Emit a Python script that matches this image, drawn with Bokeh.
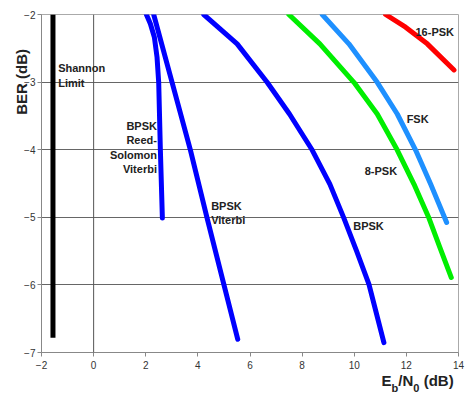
import math
from bokeh.plotting import figure
from bokeh.models import Range1d, Label, Span, FixedTicker, LinearAxis
from bokeh.embed import file_html
from bokeh.resources import INLINE

# ---- data ----
x_ticks = [-2, 0, 2, 4, 6, 8, 10, 12, 14]
y_ticks = [-7, -6, -5, -4, -3, -2]

shannon_x = [-1.56, -1.56]
shannon_y = [-2.0, -6.78]

rs_viterbi_x = [2.024, 2.177, 2.331, 2.433, 2.497, 2.561, 2.638]
rs_viterbi_y = [-2.0, -2.138, -2.336, -2.632, -3.003, -4.005, -5.012]

bpsk_viterbi_x = [2.305, 3.010, 3.714, 4.354, 4.994, 5.531]
bpsk_viterbi_y = [-2.0, -3.003, -4.005, -5.012, -5.990, -6.805]

bpsk_x = [4.225, 5.506, 6.658, 7.515, 8.386, 9.064, 9.602, 10.088, 10.562, 11.138]
bpsk_y = [-2.0, -2.434, -3.003, -3.472, -4.005, -4.509, -5.012, -5.496, -5.990, -6.854]

psk8_x = [7.490, 8.680, 9.986, 10.882, 11.650, 12.290, 12.866, 13.288, 13.724]
psk8_y = [-2.0, -2.434, -3.003, -3.472, -4.005, -4.509, -5.012, -5.447, -5.891]

fsk_x = [8.770, 9.794, 10.882, 11.650, 12.354, 12.930, 13.545]
fsk_y = [-2.0, -2.434, -3.003, -3.472, -4.005, -4.509, -5.077]

psk16_x = [11.202, 11.970, 12.802, 13.826]
psk16_y = [-2.0, -2.188, -2.434, -2.820]

curve_labels = ["Shannon", "Limit", "BPSK", "Reed-", "Solomon", "Viterbi",
                "BPSK", "Viterbi", "BPSK", "8-PSK", "FSK", "16-PSK"]
label_x = [-1.36, -1.36, 2.43, 2.43, 2.43, 2.43, 4.51, 4.51, 9.96, 10.40, 12.01, 12.35]
label_y = [-2.785, -3.007, -3.644, -3.859, -4.074, -4.281, -4.834, -5.041, -5.126, -4.311, -3.545, -2.262]
label_align = ["left", "left", "right", "right", "right", "right", "left", "left", "left", "left", "left", "left"]

y_title = "BER (dB)"
y_title_pos = -2.51
x_title_main = {11.24: "E", 11.98: "/N", 13.24: "(dB)"}
x_title_sub = {11.56: "b", 12.38: "0"}

FONT = "Liberation Sans"

p = figure(width=472, height=396, x_range=Range1d(-2, 14), y_range=Range1d(-7, -2),
           output_backend="svg", toolbar_location=None,
           min_border_left=41, min_border_right=14, min_border_top=14, min_border_bottom=44)
p.background_fill_color = "white"
p.border_fill_color = "white"
p.outline_line_color = "#aaaaaa"

p.xaxis.ticker = FixedTicker(ticks=x_ticks)
p.yaxis.ticker = FixedTicker(ticks=y_ticks)
p.xgrid.visible = False
p.ygrid.grid_line_color = "#666666"
p.ygrid.grid_line_width = 1
for ax in (p.xaxis, p.yaxis):
    ax.axis_line_color = "#888888"
    ax.major_tick_line_color = "#888888"
    ax.minor_tick_line_color = None
    ax.major_tick_in = 0
    ax.major_tick_out = 4
    ax.major_label_text_font = FONT
    ax.major_label_text_font_size = "10px"
    ax.major_label_text_color = "#333333"
p.yaxis.major_label_standoff = 2
p.xaxis.major_label_standoff = 4


def title_axis(ticks_map, size, standoff, orientation="horizontal"):
    ax = LinearAxis(ticker=FixedTicker(ticks=list(ticks_map.keys())),
                    major_label_overrides=dict(ticks_map))
    ax.axis_line_color = None
    ax.major_tick_line_color = None
    ax.minor_tick_line_color = None
    ax.major_tick_in = 0
    ax.major_tick_out = 0
    ax.major_label_standoff = standoff
    ax.major_label_text_font = FONT
    ax.major_label_text_font_style = "bold"
    ax.major_label_text_font_size = size
    ax.major_label_text_color = "#222222"
    ax.major_label_orientation = orientation
    return ax


p.add_layout(title_axis({y_title_pos: y_title}, "15px", 0, math.pi / 2), "left")
p.add_layout(title_axis(x_title_main, "15px", 0), "below")
p.add_layout(title_axis(x_title_sub, "11px", -10), "below")

p.add_layout(Span(location=0, dimension="height", line_color="#555555", line_width=1))

lw = 5
p.line(shannon_x, shannon_y, line_color="black", line_width=5)
p.line(rs_viterbi_x, rs_viterbi_y, line_color="#0000ff", line_width=lw, line_cap="round", line_join="round")
p.line(bpsk_viterbi_x, bpsk_viterbi_y, line_color="#0000ff", line_width=lw, line_cap="round", line_join="round")
p.line(bpsk_x, bpsk_y, line_color="#0000ff", line_width=lw, line_cap="round", line_join="round")
p.line(psk8_x, psk8_y, line_color="#00ee00", line_width=lw, line_cap="round", line_join="round")
p.line(fsk_x, fsk_y, line_color="#1e90ff", line_width=lw, line_cap="round", line_join="round")
p.line(psk16_x, psk16_y, line_color="#ff0000", line_width=lw, line_cap="round", line_join="round")

for t, lx, ly, al in zip(curve_labels, label_x, label_y, label_align):
    p.add_layout(Label(x=lx, y=ly, text=t, text_font=FONT, text_font_style="bold",
                       text_font_size="11px", text_color="#222222",
                       text_align=al, text_baseline="alphabetic"))

open("out.html", "w").write(file_html(p, INLINE))
